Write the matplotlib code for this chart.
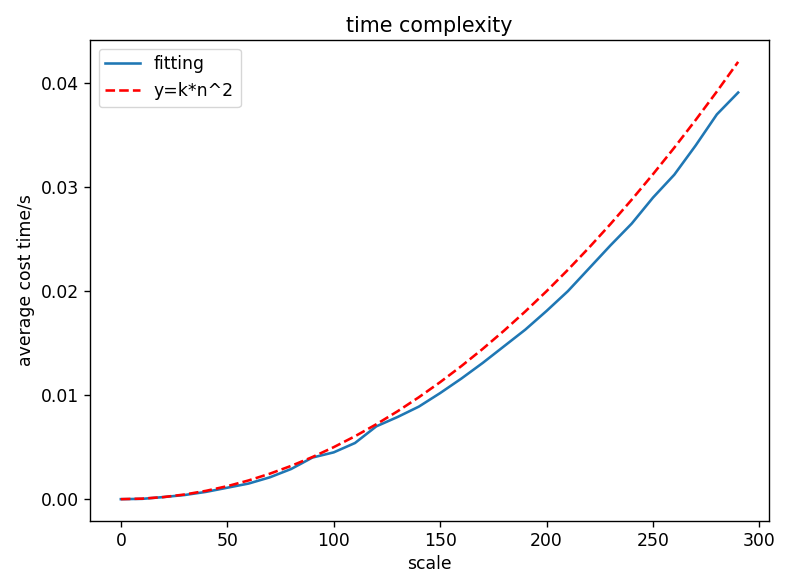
import matplotlib
matplotlib.use("Agg")
import matplotlib.pyplot as plt

# problem scale
scale = [0, 10, 20, 30, 40, 50, 60, 70, 80, 90, 100, 110, 120, 130, 140,
         150, 160, 170, 180, 190, 200, 210, 220, 230, 240, 250, 260, 270, 280, 290]

# measured average cost time (s)
fitting = [0.0, 0.00003, 0.0002, 0.0004, 0.0007, 0.0011, 0.0015, 0.0021, 0.0029, 0.0040,
           0.0045, 0.0054, 0.0070, 0.0079, 0.0089, 0.0102, 0.0116, 0.0131, 0.0147, 0.0163,
           0.0181, 0.0200, 0.0222, 0.0244, 0.0265, 0.0290, 0.0312, 0.0340, 0.0370, 0.0391]

# reference curve y = k*n^2
reference = [0.0, 0.00005, 0.0002, 0.00045, 0.0008, 0.00125, 0.0018, 0.00245, 0.0032, 0.00405,
             0.005, 0.00605, 0.0072, 0.00845, 0.0098, 0.01125, 0.0128, 0.01445, 0.0162, 0.01805,
             0.02, 0.02205, 0.0242, 0.02645, 0.0288, 0.03125, 0.0338, 0.03645, 0.0392, 0.04205]

# original looks like a 10pt figure scaled up ~1.24x
s = 1.24
plt.rcParams['font.size'] = 10 * s
plt.rcParams['lines.linewidth'] = 1.5 * s
plt.rcParams['axes.linewidth'] = 0.8 * s
plt.rcParams['xtick.major.size'] = 3.5 * s
plt.rcParams['ytick.major.size'] = 3.5 * s
plt.rcParams['xtick.major.width'] = 0.8 * s
plt.rcParams['ytick.major.width'] = 0.8 * s

fig = plt.figure(figsize=(7.92, 5.83), dpi=100)
ax = fig.add_axes([0.1136, 0.1063, 0.8574, 0.8251])

ax.plot(scale, fitting, label='fitting')
ax.plot(scale, reference, 'r--', label='y=k*n^2')
ax.set_xlabel('scale')
ax.set_ylabel('average cost time/s')
ax.set_title('time complexity')
ax.legend(loc='upper left')

fig.savefig('out.png', dpi=100)
